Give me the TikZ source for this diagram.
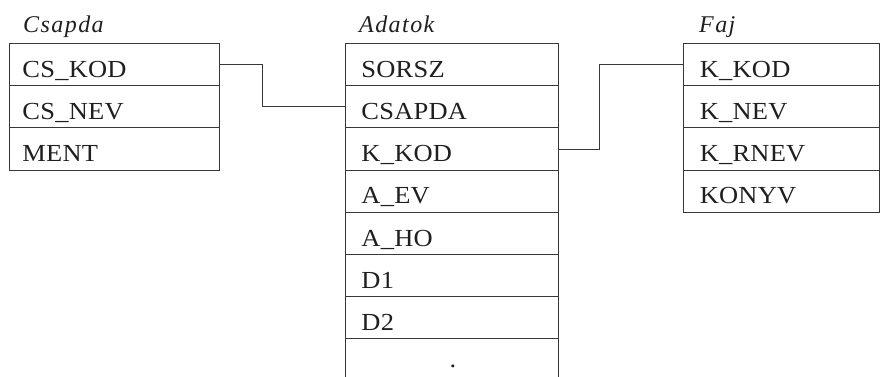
\documentclass[tikz,border=0pt]{standalone}
\usepackage{fontspec}
\setmainfont{Liberation Serif}
\newfontfamily\rowfont{Liberation Serif}[FakeStretch=1.08,LetterSpace=1]
\newfontfamily\titlefont{Liberation Serif}[LetterSpace=6]
\begin{document}
\begin{tikzpicture}[x=1pt,y=-1pt,
  line/.style={draw=black!78, line width=0.9pt},
  rowbox/.style={line, rectangle, anchor=north west, minimum height=42.2pt,
    text height=25.5pt, text depth=0pt, align=left,
    font=\rowfont\fontsize{24.5}{28}\selectfont, text=black!88},
  csrow/.style={rowbox, inner xsep=13pt, text width=184pt},
  adrow/.style={rowbox, inner xsep=16pt, text width=180.7pt},
  fjrow/.style={rowbox, inner xsep=16pt, text width=164pt},
  title/.style={anchor=base west, inner sep=0pt,
    font=\titlefont\itshape\fontsize{24}{26}\selectfont, text=black!88},
  link/.style={line}]
\useasboundingbox (0,0) rectangle (880,376);
% titles
\node[title] (tc) at (23,32.5) {Csapda};
\node[title] (ta) at (359,32.5) {Adatok};
\node[title] (tf) at (699,32.5) {Faj};
% Csapda
\node[csrow] (c1) at (9,43) {CS\_KOD};
\node[csrow] (c2) at (9,85.2) {CS\_NEV};
\node[csrow] (c3) at (9,127.4) {MENT};
% Adatok
\node[adrow] (a1) at (345,43) {SORSZ};
\node[adrow] (a2) at (345,85.2) {CSAPDA};
\node[adrow] (a3) at (345,127.4) {K\_KOD};
\node[adrow] (a4) at (345,169.6) {A\_EV};
\node[adrow] (a5) at (345,211.8) {A\_HO};
\node[adrow] (a6) at (345,254) {D1};
\node[adrow] (a7) at (345,296.2) {D2};
\node[adrow] (a8) at (345,338.4) {};
\node[anchor=base, inner sep=0pt, font=\rowfont\fontsize{24.5}{28}\selectfont, text=black!88] (dots) at (453,367) {.};
% Faj
\node[fjrow] (f1) at (683.3,43) {K\_KOD};
\node[fjrow] (f2) at (683.3,85.2) {K\_NEV};
\node[fjrow] (f3) at (683.3,127.4) {K\_RNEV};
\node[fjrow] (f4) at (683.3,169.6) {KONYV};
% connectors
\draw[link] (c1.east) -- ++(43,0) |- (a2.west);
\draw[link] (a3.east) -- ++(41,0) |- (f1.west);
\end{tikzpicture}
\end{document}
